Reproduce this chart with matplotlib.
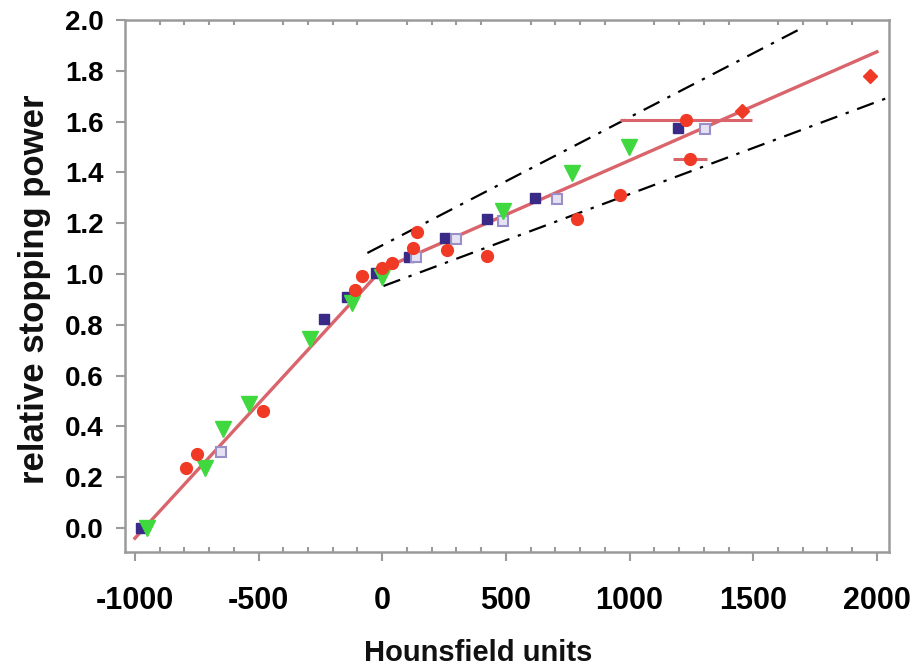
import matplotlib
matplotlib.use("Agg")
import numpy as np
import matplotlib.pyplot as plt
from matplotlib.ticker import MultipleLocator

plt.rcParams['axes.unicode_minus'] = False

# fitted calibration curve (piecewise linear) and the two dash-dot bounds
fit_x = [-1000, 0, 2000]
fit_y = [-0.04, 1.02, 1.875]
upper_x = [-60, 1690]
upper_y = [1.083, 1.965]
lower_x = [5, 2060]
lower_y = [0.953, 1.70]

# measured points
red_x = [-794, -750, -482, -110, -82, -1, 39, 124, 140, 262, 423, 787, 961]
red_y = [0.236, 0.291, 0.461, 0.937, 0.992, 1.024, 1.043, 1.102, 1.165, 1.094, 1.071, 1.217, 1.311]
green_x = [-950, -717, -644, -539, -292, -122, -1, 488, 767, 998]
green_y = [0.0, 0.235, 0.39, 0.49, 0.745, 0.886, 0.988, 1.248, 1.398, 1.50]
navy_x = [-975, -236, -143, -25, 108, 254, 423, 617, 1196]
navy_y = [0.0, 0.823, 0.91, 1.004, 1.067, 1.142, 1.217, 1.30, 1.575]
open_x = [-652, 136, 298, 488, 706, 1305]
open_y = [0.30, 1.067, 1.138, 1.209, 1.295, 1.571]
err_x = [1228, 1244]
err_y = [1.606, 1.453]
err_xerr = [267, 68]
diam_x = [1454, 1972]
diam_y = [1.642, 1.78]

xticks = [-1000, -500, 0, 500, 1000, 1500, 2000]
xticklabels = ['-1000', '-500', '0', '500', '1000', '1500', '2000']
yticks = [0.0, 0.2, 0.4, 0.6, 0.8, 1.0, 1.2, 1.4, 1.6, 1.8, 2.0]
yticklabels = ['0.0', '0.2', '0.4', '0.6', '0.8', '1.0', '1.2', '1.4', '1.6', '1.8', '2.0']

fig = plt.figure(figsize=(9.19, 6.68), dpi=100)
ax = fig.add_axes([0.136, 0.1737, 0.8314, 0.7963])

red = '#f03a26'
green = '#3fd93f'
navy = '#3a2a88'
linec = '#d9646c'

ax.plot(fit_x, fit_y, color=linec, lw=2.4, zorder=2)
ax.plot(upper_x, upper_y, color='black', lw=1.6, dashes=[8, 4, 1.5, 4], zorder=2)
ax.plot(lower_x, lower_y, color='black', lw=1.6, dashes=[8, 4, 1.5, 4], zorder=2,
        clip_on=False)

ax.errorbar(err_x, err_y, xerr=err_xerr, fmt='o', color=red, ms=8.5, ecolor=linec,
            elinewidth=2.2, capsize=0, zorder=4)
ax.plot(navy_x, navy_y, 's', color=navy, ms=7.5, zorder=3)
ax.plot(open_x, open_y, 's', mfc='#e6e2f4', mec='#9a90c8', mew=1.5, ms=7.5, zorder=3)
ax.plot(green_x, green_y, 'v', color=green, ms=11, zorder=4)
ax.plot(red_x, red_y, 'o', color=red, ms=8.5, zorder=5)
ax.plot(diam_x, diam_y, 'D', color=red, ms=7.5, zorder=5)

ax.set_xlim(-1040, 2049)
ax.set_ylim(-0.094, 2.0)

for s in ax.spines.values():
    s.set_color('#9a9a9a')
    s.set_linewidth(1.8)

ax.set_xticks(xticks)
ax.set_xticklabels(xticklabels, fontsize=22, fontweight='bold',
                   family=['Liberation Sans', 'DejaVu Sans'])
ax.xaxis.set_minor_locator(MultipleLocator(100))
ax.set_yticks(yticks)
ax.set_yticklabels(yticklabels, fontsize=20, fontweight='bold',
                   family=['Liberation Sans', 'DejaVu Sans'])

ax.tick_params(axis='x', which='major', direction='out', length=6.5, width=1.5,
               color='#9a9a9a', pad=18, top=False)
ax.tick_params(axis='x', which='minor', direction='in', length=3.5, width=1.5,
               color='#9a9a9a', top=True, bottom=True)
ax.tick_params(axis='y', which='major', direction='out', length=6.5, width=1.5,
               color='#9a9a9a', pad=9, right=False)

ax.set_xlabel('Hounsfield units', fontsize=21, fontweight='bold',
              family=['Liberation Sans', 'DejaVu Sans'], color='#111111')
ax.xaxis.set_label_coords(0.462, -0.163)
ax.set_ylabel('relative stopping power', fontsize=25, fontweight='bold',
              family=['Liberation Sans', 'DejaVu Sans'], color='#111111')
ax.yaxis.set_label_coords(-0.097, 0.494)

fig.savefig('out.png', dpi=100)
